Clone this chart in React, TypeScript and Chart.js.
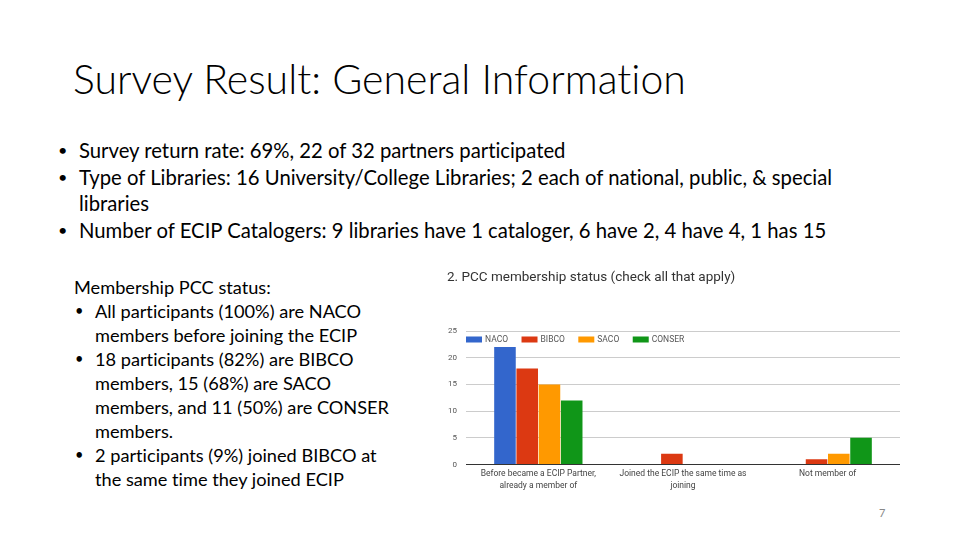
import React, { useEffect, useRef } from "react";
import { Chart, registerables } from "chart.js";

Chart.register(...registerables);

const categories: string[][] = [
  ["Before became a ECIP Partner,", "already a member of"],
  ["Joined the ECIP the same time as", "joining"],
  ["Not member of"],
];
const seriesNames = ["NACO", "BIBCO", "SACO", "CONSER"];
const nacoValues = [22, 0, 0];
const bibcoValues = [18, 2, 1];
const sacoValues = [15, 0, 2];
const conserValues = [12, 0, 5];
const yTickValues = [0, 5, 10, 15, 20, 25];
const seriesColors = ["#3366CC", "#DC3912", "#FF9900", "#109618"];

const chartTitle = "2. PCC membership status (check all that apply)";
const slideTitle = "Survey Result: General Information";
const topBullets: string[][] = [
  ["Survey return rate: 69%, 22 of 32 partners participated"],
  ["Type of Libraries: 16 University/College Libraries; 2 each of national, public, & special", "libraries"],
  ["Number of ECIP Catalogers: 9 libraries have 1 cataloger, 6 have 2, 4 have 4, 1 has 15"],
];
const leftHeading = "Membership PCC status:";
const leftBullets: string[][] = [
  ["All participants (100%) are NACO", "members before joining the ECIP"],
  ["18 participants (82%) are BIBCO", "members, 15 (68%) are SACO", "members, and 11 (50%) are CONSER", "members."],
  ["2 participants (9%) joined BIBCO at", "the same time they joined ECIP"],
];
const pageNumber = "7";

const insideLegend = {
  id: "insideLegend",
  afterDatasetsDraw(chart: any) {
    const { ctx, chartArea } = chart;
    ctx.save();
    ctx.font = "8.5px Roboto";
    ctx.textBaseline = "middle";
    ctx.textAlign = "left";
    let x = chartArea.left;
    const y = chartArea.top + 8.5;
    chart.data.datasets.forEach((ds: any) => {
      ctx.fillStyle = ds.backgroundColor;
      ctx.fillRect(x, y - 3, 16, 6);
      ctx.fillStyle = "#555";
      ctx.fillText(ds.label, x + 19, y);
      x += 19 + ctx.measureText(ds.label).width + 13.5;
    });
    ctx.restore();
  },
};

function BarChart() {
  const ref = useRef<HTMLCanvasElement | null>(null);
  useEffect(() => {
    if (!ref.current) return;
    const seriesValues = [nacoValues, bibcoValues, sacoValues, conserValues];
    const chart = new Chart(ref.current, {
      type: "bar",
      data: {
        labels: categories,
        datasets: seriesNames.map((name, i) => ({
          label: name,
          data: seriesValues[i],
          backgroundColor: seriesColors[i],
          borderWidth: 0,
          categoryPercentage: 0.615,
          barPercentage: 0.97,
        })),
      },
      options: {
        animation: false,
        responsive: false,
        maintainAspectRatio: false,
        layout: { padding: { left: 7, right: 10, top: 0, bottom: 0 } },
        plugins: {
          legend: { display: false },
          tooltip: { enabled: false },
          title: {
            display: true,
            text: chartTitle,
            align: "start",
            color: "#333",
            font: { family: "Roboto", size: 13.5, weight: "normal" },
            padding: { top: 8, bottom: 44.8 },
          },
        },
        scales: {
          x: {
            grid: { display: false, drawTicks: false },
            border: { display: false },
            ticks: {
              color: "#444",
              font: { family: "Roboto", size: 8.5, lineHeight: 1.41 },
              padding: 3,
              maxRotation: 0,
              autoSkip: false,
            },
            afterFit: (s: any) => {
              s.height = 32.5;
            },
          },
          y: {
            min: 0,
            max: 25,
            border: { display: false },
            grid: {
              color: (c: any) => (c.tick && c.tick.value === 0 ? "#333" : "#ccc"),
              lineWidth: 1,
              drawTicks: false,
            },
            ticks: {
              color: "#555",
              font: { family: "Roboto", size: 8 },
              padding: 9,
            },
            afterBuildTicks: (s: any) => {
              s.ticks = yTickValues.map((v) => ({ value: v }));
            },
            afterFit: (s: any) => {
              s.width = 19;
            },
          },
        },
      },
      plugins: [insideLegend],
    });
    return () => chart.destroy();
  }, []);
  return (
    <canvas
      ref={ref}
      width={470}
      height={235}
      style={{ position: "absolute", left: 440, top: 262, width: 470, height: 235 }}
    />
  );
}

export default function App() {
  const bodyFont = "Lato, 'Noto Sans', sans-serif";
  const bulletStyle = (left: number): React.CSSProperties => ({
    position: "absolute",
    left,
    top: 0,
    fontSize: "0.8em",
  });
  return (
    <div
      style={{
        position: "absolute",
        left: 0,
        top: 0,
        width: 960,
        height: 540,
        background: "#fff",
        overflow: "hidden",
        color: "#000",
        fontFamily: bodyFont,
        fontVariantLigatures: "none",
        fontFeatureSettings: '"liga" 0',
      }}
    >
      <div
        style={{
          position: "absolute",
          left: 73,
          top: 55,
          fontSize: 41,
          lineHeight: "48px",
          fontWeight: 300,
          whiteSpace: "nowrap",
        }}
      >
        {slideTitle}
      </div>

      <div style={{ position: "absolute", left: 0, top: 137, fontSize: 20.3, lineHeight: "26.7px" }}>
        {topBullets.map((lines, i) => (
          <div key={i} style={{ position: "relative", paddingLeft: 79, whiteSpace: "nowrap" }}>
            <span style={bulletStyle(58)}>•</span>
            {lines.map((l, j) => (
              <div key={j}>{l}</div>
            ))}
          </div>
        ))}
      </div>

      <div style={{ position: "absolute", left: 0, top: 275, fontSize: 18.2, lineHeight: "24px" }}>
        <div style={{ paddingLeft: 74, whiteSpace: "nowrap" }}>{leftHeading}</div>
        {leftBullets.map((lines, i) => (
          <div key={i} style={{ position: "relative", paddingLeft: 95, whiteSpace: "nowrap" }}>
            <span style={bulletStyle(75)}>•</span>
            {lines.map((l, j) => (
              <div key={j}>{l}</div>
            ))}
          </div>
        ))}
      </div>

      <BarChart />

      <div
        style={{
          position: "absolute",
          left: 879,
          top: 506,
          fontSize: 11,
          color: "#888",
          fontFamily: bodyFont,
        }}
      >
        {pageNumber}
      </div>
    </div>
  );
}
